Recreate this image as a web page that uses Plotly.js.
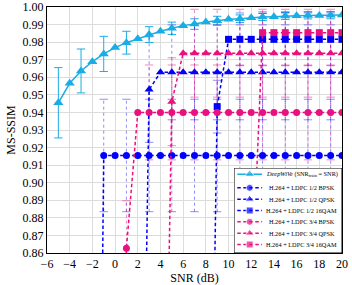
<!DOCTYPE html>
<html>
<head>
<meta charset="utf-8">
<script src="https://cdn.plot.ly/plotly-3.0.1.min.js"></script>
<style>html,body{margin:0;padding:0;background:#fff;}#chart{width:352px;height:285px;}</style>
</head>
<body>
<div id="chart"></div>
<script>
// ---------- data ----------
const snrDeep = [-5,-4,-3,-2,-1,0,1,2,3,4,5,6,7,8,9,10,11,12,13,14,15,16,17,18,19,20];
const deepwive = [0.9455,0.9566,0.9636,0.9689,0.9733,0.9769,0.9797,0.9820,0.9843,0.9862,0.9879,0.9894,0.9903,0.9915,0.9922,0.9930,0.9933,0.9939,0.9943,0.9945,0.9949,0.9950,0.9952,0.9952,0.9953,0.9955];
const deepwiveErr = [0.020,null,0.0125,null,0.010,null,0.0065,null,0.0045,null,0.0035,null,0.003,null,0.0025,null,0.0022,null,0.002,null,0.002,null,0.002,null,0.002,null];

const bpsk12X = [-2,-1,0,1,2,3,4,5,6,7,8,9,10,11,12,13,14,15,16,17,18,19,20];
const bpsk12Y = [0.30,0.9155,0.9155,0.9155,0.9155,0.9155,0.9155,0.9155,0.9155,0.9155,0.9155,0.9155,0.9155,0.9155,0.9155,0.9155,0.9155,0.9155,0.9155,0.9155,0.9155,0.9155,0.9155];
const bpsk12Err = [null,0.032,null,0.032,null,0.032,null,0.032,null,0.032,null,0.032,null,0.032,null,0.032,null,0.032,null,0.032,null,0.032,null];

const qpsk12X = [2,3,4,5,6,7,8,9,10,11,12,13,14,15,16,17,18,19,20];
const qpsk12Y = [0.53,0.953,0.9628,0.9628,0.9628,0.9628,0.9628,0.9628,0.9628,0.9628,0.9628,0.9628,0.9628,0.9628,0.9628,0.9628,0.9628,0.9628,0.9628];
const qpsk12Err = [null,0.030,null,0.027,null,0.027,null,0.027,null,0.027,null,0.027,null,0.027,null,0.027,null,0.027,null];

const qam12X = [8,9,10,11,12,13,14,15,16,17,18,19,20];
const qam12Y = [0.527,0.9433,0.9816,0.9816,0.9816,0.9816,0.9816,0.9816,0.9816,0.9816,0.9816,0.9816,0.9816];
const qam12Err = [null,0.015,null,0.015,null,0.015,null,0.015,null,0.015,null,0.015,null];

const bpsk34X = [0,1,2,3,4,5,6,7,8,9,10,11,12,13,14,15,16,17,18,19,20];
const bpsk34Y = [0.30,0.8627,0.940,0.940,0.940,0.940,0.940,0.940,0.940,0.940,0.940,0.940,0.940,0.940,0.940,0.940,0.940,0.940,0.940,0.940,0.940];
const bpsk34Err = [null,0.027,null,0.027,null,0.027,null,0.027,null,0.027,null,0.027,null,0.027,null,0.027,null,0.027,null,0.027,null];

const qpsk34X = [4,5,6,7,8,9,10,11,12,13,14,15,16,17,18,19,20];
const qpsk34Y = [0.572,0.9461,0.9737,0.9737,0.9737,0.9737,0.9737,0.9737,0.9737,0.9737,0.9737,0.9737,0.9737,0.9737,0.9737,0.9737,0.9737];
const qpsk34Err = [null,0.025,null,0.025,null,0.025,null,0.025,null,0.025,null,0.025,null,0.025,null,0.025,null];

const qam34X = [12,13,14,15,16,17,18,19,20];
const qam34Y = [0.832,0.9854,0.9854,0.9854,0.9854,0.9854,0.9854,0.9854,0.9854];
const qam34Err = [null,0.012,null,0.012,null,0.012,null,0.012,null];

const seriesNames = [
  '<i>DeepWiVe</i> (SNR<sub>train</sub> = SNR)',
  'H.264 + LDPC 1/2 BPSK',
  'H.264 + LDPC 1/2 QPSK',
  'H.264 + LDPC 1/2 16QAM',
  'H.264 + LDPC 3/4 BPSK',
  'H.264 + LDPC 3/4 QPSK',
  'H.264 + LDPC 3/4 16QAM'
];

// ---------- styles ----------
const FONT = 'Liberation Serif, Times New Roman, serif';
const CYAN = '#1aade4', BLUE = '#0000ff', PINK = '#e8117f';
const BLUE_ERR = 'rgba(0,0,255,0.45)', PINK_ERR = 'rgba(232,17,127,0.5)';
const DASH = '3.5px,2.5px';
const ERRDASH = '3px,3px';

const series = [
  {x: snrDeep, y: deepwive, e: deepwiveErr, color: CYAN, ecolor: CYAN, symbol: 'triangle-up', size: 9, dash: 'solid', edash: 'solid'},
  {x: bpsk12X, y: bpsk12Y, e: bpsk12Err, color: BLUE, ecolor: BLUE_ERR, symbol: 'circle', size: 7, dash: DASH, edash: ERRDASH},
  {x: qpsk12X, y: qpsk12Y, e: qpsk12Err, color: BLUE, ecolor: BLUE_ERR, symbol: 'triangle-up', size: 8, dash: DASH, edash: ERRDASH},
  {x: qam12X, y: qam12Y, e: qam12Err, color: BLUE, ecolor: BLUE_ERR, symbol: 'square', size: 7, dash: DASH, edash: ERRDASH},
  {x: bpsk34X, y: bpsk34Y, e: bpsk34Err, color: PINK, ecolor: PINK_ERR, symbol: 'circle', size: 7, dash: DASH, edash: ERRDASH},
  {x: qpsk34X, y: qpsk34Y, e: qpsk34Err, color: PINK, ecolor: PINK_ERR, symbol: 'triangle-up', size: 8, dash: DASH, edash: ERRDASH},
  {x: qam34X, y: qam34Y, e: qam34Err, color: PINK, ecolor: PINK_ERR, symbol: 'square', size: 7, dash: DASH, edash: ERRDASH}
];

const traces = [];
// error bars (drawn first, behind the data)
series.forEach((s) => {
  const ex = [], ey = [];
  s.x.forEach((xv, i) => {
    const err = s.e[i];
    if (err === null) return;
    ex.push(xv, xv, null);
    ey.push(s.y[i] - err, s.y[i] + err, null);
  });
  traces.push({
    type: 'scatter', mode: 'lines+markers', x: ex, y: ey, showlegend: false, hoverinfo: 'skip',
    line: {color: s.ecolor, width: 1, dash: s.edash},
    marker: {symbol: 'line-ew', size: 6, color: s.ecolor, line: {color: s.ecolor, width: 1}}
  });
});
// data lines
series.forEach((s, k) => {
  traces.push({
    type: 'scatter', mode: 'lines+markers', x: s.x, y: s.y, name: seriesNames[k], showlegend: false,
    line: {color: s.color, width: 1.5, dash: s.dash},
    marker: {symbol: s.symbol, size: s.size, color: s.color}
  });
});

// custom compact legend (on an auxiliary hidden subplot)
const legendRows = [7.2, 6, 5, 4, 3, 2, 1];
const annotations = [];
series.forEach((s, k) => {
  const r = legendRows[k];
  traces.push({
    type: 'scatter', mode: 'lines+markers', xaxis: 'x2', yaxis: 'y2', showlegend: false, hoverinfo: 'skip',
    x: [0.03, 0.145, 0.26], y: [r, r, r],
    line: {color: s.color, width: 1.5, dash: s.dash},
    marker: {symbol: s.symbol, size: [0, s.size, 0], color: s.color}
  });
  annotations.push({
    xref: 'x2', yref: 'y2', x: 0.625, y: r, xanchor: 'center', yanchor: 'middle',
    text: seriesNames[k], showarrow: false, font: {family: FONT, size: 6.3, color: '#000'}
  });
});

const axisCommon = {
  showgrid: true, gridcolor: '#dcdcdc', gridwidth: 1,
  showline: true, mirror: true, linecolor: '#000', linewidth: 1,
  zeroline: false, ticks: '', tickfont: {family: FONT, size: 12, color: '#000'},
  automargin: false
};

const layout = {
  width: 352, height: 285,
  margin: {l: 47, r: 10, t: 7, b: 32},
  paper_bgcolor: '#fff', plot_bgcolor: '#fff',
  showlegend: false,
  font: {family: FONT, size: 12, color: '#000'},
  xaxis: Object.assign({}, axisCommon, {
    range: [-6, 20], tick0: 0, dtick: 2,
    title: {text: 'SNR (dB)', font: {family: FONT, size: 12, color: '#000'}, standoff: 2}
  }),
  yaxis: Object.assign({}, axisCommon, {
    range: [0.86, 1.0], tick0: 0.86, dtick: 0.01, tickformat: '.2f',
    title: {text: 'MS-SSIM', font: {family: FONT, size: 12, color: '#000'}, standoff: 4}
  }),
  xaxis2: {domain: [0.634, 1], range: [0, 1], visible: false, fixedrange: true, anchor: 'y2'},
  yaxis2: {domain: [0, 0.3455], range: [0.25, 7.75], visible: false, fixedrange: true, anchor: 'x2'},
  shapes: [{
    type: 'rect', xref: 'x2', yref: 'y2', x0: 0, x1: 1, y0: 0.25, y1: 7.75,
    fillcolor: '#fff', line: {color: '#000', width: 1}, layer: 'below'
  }],
  annotations: annotations
};

Plotly.newPlot('chart', traces, layout, {displayModeBar: false, staticPlot: true});
</script>
</body>
</html>
